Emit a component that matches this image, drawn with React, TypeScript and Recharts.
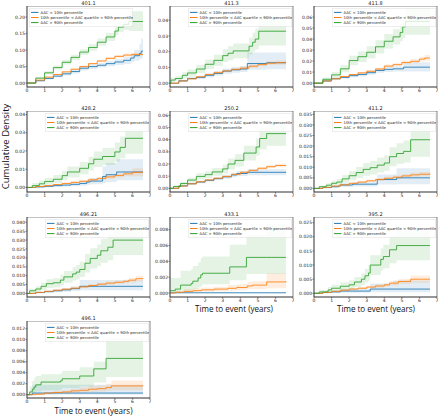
import { ComposedChart, Line, Area, XAxis, YAxis, ReferenceArea, Legend } from 'recharts';

// each point: [time (years), estimate, lower CI, upper CI] — step functions
type Pt = [number, number, number, number];

const seriesNames = [
  'AAC < 10th percentile',
  '10th percentile < AAC quartile < 90th percentile',
  'AAC > 90th percentile',
];
const seriesColors = ['#1f77b4', '#ff7f0e', '#2ca02c'];
const xTicks = [0, 1, 2, 3, 4, 5, 6, 7];

// 401.1
const p401_1Low: Pt[] = [[0,0,0,0],[0.5,0.007,0.005,0.009],[1,0.014,0.011,0.017],[1.5,0.021,0.017,0.025],[2,0.028,0.023,0.033],[2.5,0.035,0.029,0.041],[3,0.045,0.038,0.051],[3.5,0.05,0.043,0.057],[4,0.054,0.047,0.062],[4.5,0.059,0.051,0.067],[5,0.064,0.055,0.073],[5.5,0.069,0.058,0.08],[5.9,0.076,0.063,0.09],[6.1,0.083,0.068,0.1],[6.4,0.09,0.072,0.118],[6.5,0.097,0.075,0.135],[6.6,0.097,0.075,0.135]];
const p401_1Mid: Pt[] = [[0,0,0,0],[0.5,0.009,0.008,0.01],[1,0.018,0.016,0.02],[1.5,0.026,0.024,0.028],[2,0.034,0.032,0.036],[2.5,0.042,0.04,0.045],[3,0.05,0.047,0.053],[3.5,0.059,0.056,0.062],[4,0.067,0.064,0.071],[4.5,0.075,0.071,0.079],[5,0.081,0.077,0.085],[5.5,0.085,0.081,0.09],[6,0.087,0.082,0.092],[6.6,0.087,0.082,0.092]];
const p401_1High: Pt[] = [[0,0,0,0],[0.5,0.015,0.012,0.018],[1,0.031,0.026,0.036],[1.5,0.047,0.041,0.053],[2,0.063,0.056,0.07],[2.5,0.078,0.07,0.086],[3,0.094,0.085,0.103],[3.5,0.108,0.098,0.118],[4,0.124,0.113,0.135],[4.5,0.14,0.128,0.152],[5,0.158,0.145,0.171],[5.2,0.17,0.155,0.186],[5.5,0.178,0.162,0.196],[5.8,0.187,0.158,0.218],[6.6,0.187,0.158,0.218]];

// 411.3
const p411_3Low: Pt[] = [[0,0,0,0],[0.5,0.0015,0.0008,0.0022],[1,0.003,0.002,0.004],[1.5,0.0037,0.0026,0.0048],[2,0.005,0.0037,0.0063],[2.5,0.0062,0.0047,0.0077],[3,0.0077,0.006,0.0094],[3.5,0.0085,0.0067,0.0103],[4,0.009,0.0071,0.011],[4.4,0.0125,0.0085,0.0195],[5.5,0.013,0.0088,0.0195],[6.6,0.013,0.0088,0.0195]];
const p411_3Mid: Pt[] = [[0,0,0,0],[0.5,0.0014,0.0011,0.0017],[1,0.0028,0.0024,0.0032],[1.5,0.0041,0.0036,0.0046],[2,0.0055,0.0049,0.0061],[2.5,0.0067,0.006,0.0074],[3,0.0078,0.0071,0.0086],[3.5,0.0088,0.008,0.0097],[4,0.0096,0.0087,0.0106],[4.5,0.0108,0.0098,0.0119],[5,0.0118,0.0107,0.013],[5.5,0.0127,0.0115,0.014],[6,0.013,0.0117,0.0144],[6.6,0.0132,0.0118,0.0146]];
const p411_3High: Pt[] = [[0,0,0,0],[0.05,0.002,0.0008,0.0034],[0.3,0.003,0.0015,0.0045],[0.7,0.005,0.003,0.007],[1,0.0065,0.0043,0.0087],[1.5,0.009,0.0065,0.0115],[2,0.012,0.009,0.015],[2.5,0.0145,0.011,0.018],[3,0.0175,0.0135,0.0215],[3.3,0.019,0.0145,0.0235],[3.6,0.0205,0.0158,0.0252],[4.5,0.0235,0.0183,0.0288],[4.7,0.026,0.02,0.032],[4.85,0.028,0.0215,0.0345],[5.05,0.033,0.024,0.042],[6.6,0.033,0.024,0.042]];

// 411.8
const p411_8Low: Pt[] = [[0,0,0,0],[0.5,0.002,0.0012,0.0028],[1,0.004,0.003,0.005],[1.5,0.0052,0.004,0.0064],[2,0.0068,0.0054,0.0082],[2.5,0.0078,0.0062,0.0094],[3,0.0095,0.0077,0.0113],[3.5,0.0115,0.0094,0.0136],[4,0.0125,0.0102,0.0148],[4.5,0.013,0.0106,0.0154],[5.1,0.0145,0.0105,0.019],[6.6,0.0145,0.0105,0.019]];
const p411_8Mid: Pt[] = [[0,0,0,0],[0.5,0.002,0.0016,0.0024],[1,0.004,0.0034,0.0046],[1.5,0.006,0.0053,0.0067],[2,0.0078,0.007,0.0086],[2.5,0.0093,0.0084,0.0102],[3,0.0108,0.0098,0.0118],[3.5,0.0128,0.0116,0.014],[4,0.0155,0.0141,0.0169],[4.5,0.0168,0.0153,0.0183],[5,0.0188,0.0171,0.0205],[5.5,0.0198,0.018,0.0218],[6,0.0218,0.0196,0.024],[6.3,0.0228,0.0202,0.0256],[6.6,0.0228,0.0202,0.0256]];
const p411_8High: Pt[] = [[0,0,0,0],[0.5,0.0035,0.0018,0.0052],[1,0.0075,0.005,0.01],[1.5,0.013,0.0098,0.0162],[2,0.0205,0.0162,0.0248],[2.5,0.024,0.0192,0.0288],[3,0.028,0.0226,0.0334],[3.5,0.033,0.027,0.039],[4,0.038,0.0315,0.0445],[4.5,0.042,0.035,0.049],[4.9,0.046,0.038,0.054],[5.05,0.051,0.041,0.061],[5.2,0.056,0.044,0.068],[6.6,0.056,0.044,0.068]];

// 428.2
const p428_2Low: Pt[] = [[0,0,0,0],[0.5,0.0003,0,0.0008],[1,0.0006,0.0001,0.0012],[1.5,0.001,0.0003,0.0017],[2,0.0013,0.0005,0.0021],[2.5,0.0017,0.0007,0.0027],[3,0.0022,0.001,0.0034],[3.4,0.003,0.0015,0.0045],[3.6,0.0035,0.0018,0.0052],[4.3,0.006,0.0025,0.0115],[4.5,0.007,0.003,0.0135],[5.1,0.0085,0.004,0.0155],[6.6,0.0085,0.004,0.0155]];
const p428_2Mid: Pt[] = [[0,0,0,0],[0.5,0.0005,0.0003,0.0007],[1,0.001,0.0007,0.0013],[1.5,0.0016,0.0012,0.002],[2,0.0022,0.0017,0.0027],[2.5,0.0028,0.0022,0.0034],[3,0.0034,0.0027,0.0041],[3.5,0.0042,0.0034,0.005],[4,0.005,0.0041,0.0059],[4.5,0.0058,0.0048,0.0068],[5,0.0066,0.0055,0.0077],[5.5,0.0075,0.0062,0.0088],[6,0.0083,0.0062,0.0105],[6.6,0.0085,0.0062,0.012]];
const p428_2High: Pt[] = [[0,0,0,0],[0.3,0.001,0,0.0025],[0.7,0.002,0.0006,0.0038],[1,0.0033,0.0015,0.0052],[1.5,0.0045,0.0024,0.0068],[2,0.0065,0.004,0.009],[2.3,0.0085,0.0055,0.0115],[3,0.0105,0.0072,0.014],[3.5,0.013,0.0093,0.0168],[3.8,0.0155,0.0112,0.0198],[4.3,0.017,0.0123,0.0217],[5,0.0195,0.0143,0.0247],[5.3,0.022,0.016,0.028],[5.6,0.027,0.0185,0.032],[6.6,0.027,0.0185,0.032]];

// 250.2
const p250_2Low: Pt[] = [[0,0,0,0],[0.5,0.002,0.0014,0.0026],[1,0.0038,0.003,0.0046],[1.5,0.0052,0.0042,0.0062],[2,0.0066,0.0054,0.0078],[2.5,0.008,0.0066,0.0094],[3,0.0095,0.0079,0.0111],[3.5,0.011,0.0092,0.0128],[3.8,0.0122,0.0102,0.0142],[4.4,0.0132,0.0108,0.0158],[6.6,0.0135,0.0105,0.0165]];
const p250_2Mid: Pt[] = [[0,0,0,0],[0.5,0.0019,0.0016,0.0022],[1,0.0037,0.0033,0.0041],[1.5,0.0054,0.0049,0.0059],[2,0.0069,0.0063,0.0075],[2.5,0.0083,0.0076,0.009],[3,0.0098,0.009,0.0106],[3.5,0.0115,0.0106,0.0124],[4,0.0132,0.0122,0.0142],[4.5,0.0148,0.0137,0.0159],[5,0.0165,0.0153,0.0177],[5.5,0.0178,0.0165,0.0191],[6,0.0188,0.0173,0.0203],[6.6,0.019,0.0175,0.0208]];
const p250_2High: Pt[] = [[0,0,0,0],[0.2,0.0015,0.0005,0.0025],[0.6,0.004,0.0025,0.0055],[1,0.0068,0.0048,0.0088],[1.5,0.0098,0.0072,0.0124],[2,0.0113,0.0085,0.0141],[2.4,0.0135,0.0103,0.0167],[3,0.016,0.0123,0.0197],[3.3,0.02,0.0155,0.0245],[3.7,0.023,0.018,0.028],[4.2,0.029,0.023,0.035],[4.9,0.034,0.027,0.041],[5.1,0.041,0.032,0.05],[5.5,0.045,0.035,0.055],[6.6,0.045,0.035,0.055]];

// 411.2
const p411_2Low: Pt[] = [[0,0,0,0],[0.5,0.0004,0.0001,0.0007],[1,0.0008,0.0003,0.0013],[1.4,0.0012,0.0005,0.0019],[1.5,0.0016,0.0007,0.0025],[2.2,0.002,0.0009,0.0031],[3.6,0.0042,0.0018,0.0066],[4.7,0.005,0.002,0.0095],[6.6,0.005,0.002,0.0095]];
const p411_2Mid: Pt[] = [[0,0,0,0],[0.5,0.0005,0.0003,0.0007],[1,0.0011,0.0008,0.0014],[1.5,0.0017,0.0013,0.0021],[2,0.0024,0.0019,0.0029],[2.5,0.003,0.0025,0.0035],[3,0.0036,0.003,0.0042],[3.5,0.0042,0.0035,0.0049],[4,0.0048,0.0041,0.0055],[4.5,0.0053,0.0045,0.0061],[5,0.0059,0.005,0.0068],[5.5,0.0064,0.0054,0.0074],[6,0.0067,0.0056,0.0078],[6.6,0.007,0.0057,0.0085]];
const p411_2High: Pt[] = [[0,0,0,0],[0.3,0.0008,0.0002,0.0014],[0.7,0.0015,0.0006,0.0024],[1,0.0024,0.0012,0.0036],[1.3,0.003,0.0016,0.0044],[1.6,0.0045,0.0027,0.0063],[2,0.006,0.0038,0.0082],[2.4,0.0075,0.0049,0.0101],[2.8,0.009,0.006,0.012],[3.2,0.0098,0.0066,0.013],[3.6,0.011,0.0075,0.0145],[4,0.012,0.0083,0.0157],[4.3,0.015,0.0105,0.0195],[4.7,0.0165,0.0117,0.0213],[5.1,0.0175,0.0123,0.0227],[5.5,0.023,0.015,0.031],[6.6,0.023,0.015,0.031]];

// 496.21
const p496_21Low: Pt[] = [[0,0,0,0],[0.5,0.0005,0.0001,0.0009],[1,0.001,0.0004,0.0016],[1.5,0.0015,0.0007,0.0023],[2,0.002,0.001,0.003],[2.5,0.0027,0.0014,0.004],[3,0.004,0.0018,0.0076],[6.6,0.004,0.0018,0.0078]];
const p496_21Mid: Pt[] = [[0,0,0,0],[0.5,0.0006,0.0004,0.0008],[1,0.0012,0.0009,0.0015],[1.5,0.0018,0.0014,0.0022],[2,0.0024,0.0019,0.0029],[2.5,0.003,0.0025,0.0035],[3,0.0037,0.0031,0.0043],[3.5,0.0045,0.0038,0.0052],[4,0.0052,0.0044,0.006],[4.5,0.0058,0.0049,0.0067],[5,0.0063,0.0053,0.0073],[5.5,0.0068,0.0057,0.0079],[5.8,0.0075,0.0062,0.0088],[6.2,0.0083,0.0067,0.0099],[6.6,0.0085,0.0068,0.0103]];
const p496_21High: Pt[] = [[0,0,0,0],[0.15,0.0015,0.0003,0.0027],[0.5,0.0025,0.001,0.004],[0.8,0.004,0.002,0.006],[1.1,0.0055,0.003,0.008],[1.5,0.006,0.0034,0.0086],[1.9,0.0075,0.0045,0.0105],[2.1,0.0093,0.006,0.0126],[2.6,0.011,0.0073,0.0147],[2.8,0.012,0.008,0.016],[3,0.0135,0.0092,0.0178],[3.3,0.017,0.0118,0.0222],[3.6,0.0197,0.014,0.0254],[4,0.0215,0.0154,0.0276],[4.2,0.024,0.0172,0.0308],[4.6,0.026,0.0187,0.0333],[4.9,0.03,0.0216,0.039],[6.6,0.03,0.0216,0.039]];

// 433.1
const p433_1Low: Pt[] = [[0,0.00003,0,0.00008],[6.6,0.00003,0,0.00008]];
const p433_1Mid: Pt[] = [[0,0,0,0],[0.3,0.0001,0,0.0003],[0.8,0.0002,0.00005,0.0005],[1.3,0.0003,0.0001,0.0006],[1.8,0.0004,0.00015,0.0007],[2.5,0.0005,0.0002,0.0008],[3.3,0.0006,0.0003,0.001],[3.8,0.0007,0.00035,0.0011],[4.4,0.0009,0.0005,0.0014],[4.7,0.001,0.0005,0.0015],[5.5,0.0014,0.0006,0.0025],[6.6,0.0015,0.0006,0.0026]];
const p433_1High: Pt[] = [[0,0.0003,0,0.0019],[0.3,0.0005,0.0001,0.0019],[0.6,0.001,0.0002,0.0028],[1.2,0.0012,0.0003,0.003],[1.3,0.0015,0.0005,0.0034],[1.6,0.0019,0.0007,0.0039],[1.75,0.0023,0.0009,0.0044],[1.85,0.0025,0.0011,0.0046],[3.4,0.0033,0.0016,0.0061],[4.35,0.0045,0.0024,0.0073],[5.5,0.0045,0.0024,0.0087],[6.6,0.0045,0.0024,0.0087]];

// 395.2
const p395_2Low: Pt[] = [[0,0,0,0],[0.5,0.0003,0,0.0008],[1,0.0005,0.0001,0.0011],[1.5,0.0008,0.0002,0.0016],[3.2,0.0015,0.0004,0.0035],[4.5,0.0015,0.0004,0.0045],[6.6,0.0015,0.0004,0.0045]];
const p395_2Mid: Pt[] = [[0,0,0,0],[0.5,0.0003,0.0002,0.0004],[1,0.0007,0.0005,0.0009],[1.5,0.0011,0.0008,0.0014],[2,0.0015,0.0011,0.0019],[2.5,0.0018,0.0014,0.0022],[3,0.0022,0.0017,0.0027],[3.5,0.0026,0.002,0.0032],[4,0.003,0.0024,0.0036],[4.3,0.0036,0.0028,0.0044],[4.8,0.0042,0.0033,0.0051],[5.5,0.005,0.0037,0.0063],[6.6,0.005,0.0037,0.0063]];
const p395_2High: Pt[] = [[0,0,0,0],[0.3,0.0005,0,0.0012],[0.8,0.0012,0.0003,0.0022],[1,0.0018,0.0006,0.003],[1.5,0.0025,0.0011,0.0039],[2,0.003,0.0015,0.0046],[2.3,0.004,0.0022,0.0058],[2.7,0.005,0.0029,0.0071],[2.9,0.0062,0.0038,0.0086],[3.1,0.0072,0.0045,0.0099],[3.2,0.01,0.0065,0.0135],[3.8,0.012,0.0081,0.0159],[3.95,0.013,0.0089,0.0172],[4.3,0.0154,0.0106,0.0202],[4.7,0.0169,0.0117,0.0222],[6.6,0.0169,0.0117,0.0222]];

// 496.1
const p496_1Low: Pt[] = [[0,0,0,0],[0.3,0.0003,0,0.0018],[6.6,0.0003,0,0.0018]];
const p496_1Mid: Pt[] = [[0,0,0,0],[0.5,0.0001,0,0.0002],[1,0.0003,0.0001,0.0005],[1.5,0.0004,0.0002,0.0007],[2,0.0005,0.0002,0.0008],[2.5,0.0007,0.0003,0.0011],[3,0.0008,0.0004,0.0013],[3.5,0.001,0.0005,0.0016],[4,0.0011,0.0006,0.0017],[4.5,0.0013,0.0007,0.002],[4.8,0.0016,0.0008,0.0026],[6.6,0.0017,0.0008,0.0028]];
const p496_1High: Pt[] = [[0,0,0,0],[0.15,0.0005,0,0.0015],[0.3,0.001,0.0002,0.0025],[0.4,0.0014,0.0004,0.003],[0.5,0.0018,0.0006,0.0034],[0.8,0.0023,0.0008,0.0037],[1.9,0.0025,0.0009,0.0039],[2,0.0029,0.0012,0.0043],[3,0.0034,0.0015,0.005],[3.8,0.0047,0.0022,0.006],[4.5,0.0066,0.0032,0.0104],[6.6,0.0066,0.0032,0.0104]];

// y axis ticks per panel
const ticks401_1 = [0, 0.05, 0.1, 0.15, 0.2];
const ticks411_3 = [0, 0.01, 0.02, 0.03, 0.04];
const ticks411_8 = [0, 0.01, 0.02, 0.03, 0.04, 0.05, 0.06];
const ticks428_2 = [0, 0.01, 0.02, 0.03, 0.04];
const ticks250_2 = [0, 0.01, 0.02, 0.03, 0.04, 0.05, 0.06];
const ticks411_2 = [0, 0.005, 0.01, 0.015, 0.02, 0.025, 0.03, 0.035];
const ticks496_21 = [0, 0.005, 0.01, 0.015, 0.02, 0.025, 0.03, 0.035, 0.04];
const ticks433_1 = [0, 0.002, 0.004, 0.006, 0.008];
const ticks395_2 = [0, 0.005, 0.01, 0.015, 0.02, 0.025];
const ticks496_1 = [0, 0.002, 0.004, 0.006, 0.008, 0.01, 0.012];

const PLOT_W = 123;
const Y_W = 22;
const X_H = 10;
const colLeft = [27, 170, 314];
const rowTop = [6, 111, 217, 321];
const rowH = [81, 81, 80, 77];
const FONT = '"DejaVu Sans", sans-serif';
const LABEL_FONT = '"Open Sans", sans-serif';

type PanelDef = {
  title: string;
  series: Pt[][];
  ticks: number[];
  dec: number;
  yLim: [number, number];
  row: number;
  col: number;
  legendLeft?: boolean;
};

const panels: PanelDef[] = [
  { title: '401.1', series: [p401_1Low, p401_1Mid, p401_1High], ticks: ticks401_1, dec: 2, yLim: [-0.012, 0.234], row: 0, col: 0, legendLeft: true },
  { title: '411.3', series: [p411_3Low, p411_3Mid, p411_3High], ticks: ticks411_3, dec: 2, yLim: [-0.0024, 0.049], row: 0, col: 1 },
  { title: '411.8', series: [p411_8Low, p411_8Mid, p411_8High], ticks: ticks411_8, dec: 2, yLim: [-0.0035, 0.07], row: 0, col: 2 },
  { title: '428.2', series: [p428_2Low, p428_2Mid, p428_2High], ticks: ticks428_2, dec: 2, yLim: [-0.0025, 0.042], row: 1, col: 0 },
  { title: '250.2', series: [p250_2Low, p250_2Mid, p250_2High], ticks: ticks250_2, dec: 2, yLim: [-0.003, 0.0636], row: 1, col: 1 },
  { title: '411.2', series: [p411_2Low, p411_2Mid, p411_2High], ticks: ticks411_2, dec: 3, yLim: [-0.0017, 0.0366], row: 1, col: 2 },
  { title: '496.21', series: [p496_21Low, p496_21Mid, p496_21High], ticks: ticks496_21, dec: 3, yLim: [-0.002, 0.043], row: 2, col: 0 },
  { title: '433.1', series: [p433_1Low, p433_1Mid, p433_1High], ticks: ticks433_1, dec: 3, yLim: [-0.0005, 0.0096], row: 2, col: 1 },
  { title: '395.2', series: [p395_2Low, p395_2Mid, p395_2High], ticks: ticks395_2, dec: 3, yLim: [-0.0013, 0.027], row: 2, col: 2 },
  { title: '496.1', series: [p496_1Low, p496_1Mid, p496_1High], ticks: ticks496_1, dec: 3, yLim: [-0.0006, 0.0134], row: 3, col: 0 },
];

const LEG_W = 104;
const LEG_H = 19;

function LegendBox() {
  return (
    <svg width={LEG_W} height={LEG_H} style={{ display: 'block' }}>
      <rect x={0.25} y={0.25} width={LEG_W - 0.5} height={LEG_H - 0.5} rx={1} fill="#fff" fillOpacity={0.8} stroke="#d0d0d0" strokeWidth={0.5} />
      {seriesNames.map((name, i) => (
        <g key={name}>
          <line x1={2} x2={9.5} y1={4.4 + i * 5.1} y2={4.4 + i * 5.1} stroke={seriesColors[i]} strokeWidth={1} />
          <text x={11.5} y={4.4 + i * 5.1} dy="0.35em" fontSize={3.8} fontFamily={FONT} fill="#222">{name}</text>
        </g>
      ))}
    </svg>
  );
}

function Panel({ p }: { p: PanelDef }) {
  const plotH = rowH[p.row];
  const legendX = p.legendLeft ? Y_W + 1.5 : Y_W + PLOT_W - 1.5 - LEG_W;
  return (
    <div style={{ position: 'absolute', left: colLeft[p.col] - Y_W, top: rowTop[p.row] }}>
      <ComposedChart width={Y_W + PLOT_W + 1} height={plotH + X_H} margin={{ top: 0, right: 1, bottom: 0, left: 0 }}>
        <XAxis
          type="number"
          dataKey="t"
          domain={[0, 7]}
          ticks={xTicks}
          allowDataOverflow
          height={X_H}
          tickSize={1.5}
          tickMargin={0.2}
          stroke="#333"
          strokeWidth={0.6}
          tick={{ fontSize: 4.5, fill: '#222', fontFamily: FONT }}
          interval={0}
        />
        <YAxis
          type="number"
          domain={p.yLim}
          ticks={p.ticks}
          allowDataOverflow
          width={Y_W}
          tickSize={1.5}
          tickMargin={0.5}
          stroke="#333"
          strokeWidth={0.6}
          tick={{ fontSize: 4.5, fill: '#222', fontFamily: FONT }}
          tickFormatter={(v: number) => v.toFixed(p.dec)}
          interval={0}
        />
        {p.series.map((pts, i) => (
          <Area
            key={`band-${i}`}
            data={pts.map((d) => ({ t: d[0], band: [d[2], d[3]] }))}
            dataKey="band"
            type="stepAfter"
            stroke="none"
            fill={seriesColors[i]}
            fillOpacity={0.13}
            isAnimationActive={false}
            legendType="none"
          />
        ))}
        {p.series.map((pts, i) => (
          <Line
            key={`line-${i}`}
            data={pts.map((d) => ({ t: d[0], v: d[1] }))}
            dataKey="v"
            type="stepAfter"
            stroke={seriesColors[i]}
            strokeWidth={0.85}
            dot={false}
            isAnimationActive={false}
          />
        ))}
        <ReferenceArea x1={0} x2={7} y1={p.yLim[0]} y2={p.yLim[1]} fill="none" stroke="#333" strokeWidth={0.6} ifOverflow="visible" />
        <Legend
          layout="vertical"
          align="center"
          verticalAlign="middle"
          content={() => <LegendBox />}
          wrapperStyle={{ position: 'absolute', left: legendX, top: 1.5, width: LEG_W, height: LEG_H, margin: 0, padding: 0 }}
        />
      </ComposedChart>
    </div>
  );
}

export default function App() {
  return (
    <div style={{ position: 'absolute', left: 0, top: 0, width: 440, height: 417, background: '#fff', overflow: 'hidden' }}>
      {panels.map((p) => (
        <Panel key={p.title} p={p} />
      ))}
      <svg width={440} height={417} style={{ position: 'absolute', left: 0, top: 0, zIndex: 20, pointerEvents: 'none' }}>
        {panels.map((p) => (
          <text key={p.title} x={colLeft[p.col] + PLOT_W / 2} y={rowTop[p.row] - 1.2} textAnchor="middle" fontSize={5} fontFamily={FONT} fill="#222">
            {p.title}
          </text>
        ))}
        <text x={0} y={0} transform="translate(9,146.5) rotate(-90)" textAnchor="middle" fontSize={9.5} fontFamily={LABEL_FONT} fill="#111">
          Cumulative Density
        </text>
        <text x={93.5} y={413.5} textAnchor="middle" fontSize={8.3} textLength={78} lengthAdjust="spacingAndGlyphs" fontFamily={LABEL_FONT} fill="#111">Time to event (years)</text>
        <text x={234} y={312} textAnchor="middle" fontSize={8.5} textLength={78} lengthAdjust="spacingAndGlyphs" fontFamily={LABEL_FONT} fill="#111">Time to event (years)</text>
        <text x={376} y={312} textAnchor="middle" fontSize={8.5} textLength={78} lengthAdjust="spacingAndGlyphs" fontFamily={LABEL_FONT} fill="#111">Time to event (years)</text>
      </svg>
    </div>
  );
}
